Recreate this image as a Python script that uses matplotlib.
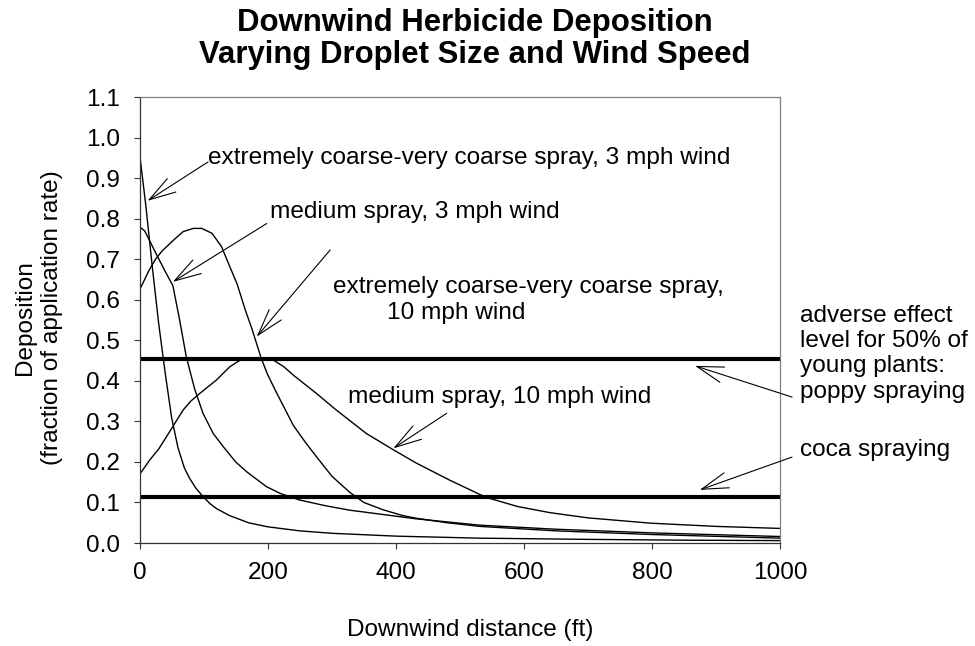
import matplotlib
matplotlib.use("Agg")
import matplotlib.pyplot as plt

plt.rcParams['font.family'] = ['Liberation Sans', 'DejaVu Sans']

dist_xc3 = [0, 10, 20, 30, 40, 50, 60, 70, 78, 88, 100, 110, 120, 140, 170, 200, 250, 300, 400, 530, 700,
            850, 1000]
dep_xc3 = [0.962, 0.83, 0.68, 0.54, 0.42, 0.31, 0.235, 0.185, 0.16, 0.135, 0.113, 0.097, 0.085, 0.068,
           0.05, 0.04, 0.03, 0.024, 0.017, 0.012, 0.009, 0.007, 0.006]

dist_med3 = [0, 8, 16, 27, 40, 52, 62, 73, 86, 99, 115, 131, 150, 167, 198, 220, 250, 290, 328, 430, 531,
             650, 800, 1000]
dep_med3 = [0.78, 0.77, 0.745, 0.71, 0.67, 0.635, 0.555, 0.459, 0.38, 0.32, 0.27, 0.237, 0.2, 0.176,
            0.139, 0.122, 0.106, 0.092, 0.081, 0.06, 0.044, 0.034, 0.025, 0.016]

dist_xc10 = [0, 8, 15, 25, 35, 53, 68, 84, 97, 113, 128, 141, 152, 165, 175, 183, 190, 200, 214, 227, 240,
             258, 276, 300, 328, 350, 380, 410, 432, 480, 531, 650, 800, 1000]
dep_xc10 = [0.624, 0.65, 0.673, 0.7, 0.72, 0.747, 0.768, 0.776, 0.776, 0.764, 0.731, 0.681, 0.64, 0.575,
            0.53, 0.49, 0.455, 0.415, 0.37, 0.33, 0.29, 0.25, 0.213, 0.165, 0.125, 0.10, 0.082, 0.068,
            0.061, 0.05, 0.041, 0.03, 0.021, 0.012]

dist_med10 = [0, 16, 30, 42, 55, 68, 80, 94, 120, 141, 157, 172, 190, 209, 225, 240, 276, 307, 354, 396,
              432, 484, 540, 590, 640, 700, 797, 900, 1000]
dep_med10 = [0.169, 0.205, 0.232, 0.262, 0.295, 0.328, 0.35, 0.369, 0.402, 0.435, 0.451, 0.455, 0.455,
             0.451, 0.435, 0.414, 0.369, 0.328, 0.27, 0.23, 0.197, 0.155, 0.113, 0.09, 0.075, 0.062,
             0.049, 0.041, 0.036]

# adverse effect levels
poppy_level = 0.455
coca_level = 0.113

x_ticks = [0, 200, 400, 600, 800, 1000]
y_ticks = [0.0, 0.1, 0.2, 0.3, 0.4, 0.5, 0.6, 0.7, 0.8, 0.9, 1.0, 1.1]

fs = 17.6

fig = plt.figure(figsize=(9.75, 6.46), dpi=100)
ax = fig.add_axes([0.1431, 0.1594, 0.6574, 0.6904])

for d, v in [(dist_xc3, dep_xc3), (dist_med3, dep_med3), (dist_xc10, dep_xc10), (dist_med10, dep_med10)]:
    ax.plot(d, v, color='black', lw=1.0, solid_joinstyle='round')

ax.axhline(poppy_level, color='black', lw=3.0)
ax.axhline(coca_level, color='black', lw=3.0)

ax.set_xlim(0, 1000)
ax.set_ylim(0, 1.1)
ax.set_xticks(x_ticks)
ax.set_yticks(y_ticks)
ax.set_yticklabels(['%.1f' % t for t in y_ticks])
ax.tick_params(direction='out', length=4.5, width=0.8, labelsize=fs, color='#333333')
ax.tick_params(axis='x', pad=9)
ax.tick_params(axis='y', pad=9.5)
for side in ['top', 'right']:
    ax.spines[side].set_color('#808080')
for side in ['left', 'bottom']:
    ax.spines[side].set_color('#333333')
for s in ax.spines.values():
    s.set_linewidth(0.9)

arrow = dict(arrowstyle='->,head_length=1.92,head_width=0.57', mutation_scale=10,
             lw=0.8, color='black', shrinkA=0, shrinkB=0)

def label(x, y, text, tip, tail):
    ax.text(x, y, text, fontsize=fs, ha='left', va='center')
    ax.annotate('', xy=tip, xytext=tail, arrowprops=arrow, annotation_clip=False)

label(107, 0.949, 'extremely coarse-very coarse spray, 3 mph wind', (12.5, 0.844), (107, 0.940))
label(203.6, 0.817, 'medium spray, 3 mph wind', (51.8, 0.644), (198.4, 0.788))
label(302.3, 0.599, 'extremely coarse-very coarse spray,\n        10 mph wind', (182.8, 0.509), (297.5, 0.723))
label(325.8, 0.361, 'medium spray, 10 mph wind', (396, 0.2335), (479.3, 0.320))

ax.text(1030.4, 0.467, 'adverse effect\nlevel for 50% of\nyoung plants:\npoppy spraying',
        fontsize=fs, ha='left', va='center')
ax.annotate('', xy=(866.6, 0.437), xytext=(1018, 0.360), arrowprops=arrow, annotation_clip=False)
ax.text(1030.4, 0.229, 'coca spraying', fontsize=fs, ha='left', va='center')
ax.annotate('', xy=(874, 0.131), xytext=(1018, 0.212), arrowprops=arrow, annotation_clip=False)

fig.text(475 / 975, 1 - 39 / 646, 'Downwind Herbicide Deposition\nVarying Droplet Size and Wind Speed',
         fontsize=22.4, fontweight='bold', ha='center', va='center', linespacing=1.05)
fig.text(38.5 / 975, 1 - 318 / 646, 'Deposition\n(fraction of application rate)', fontsize=fs,
         rotation=90, ha='center', va='center', multialignment='center', linespacing=1.3)
fig.text(470 / 975, 1 - 630 / 646, 'Downwind distance (ft)', fontsize=fs, ha='center', va='center')

fig.savefig('out.png', dpi=100)
